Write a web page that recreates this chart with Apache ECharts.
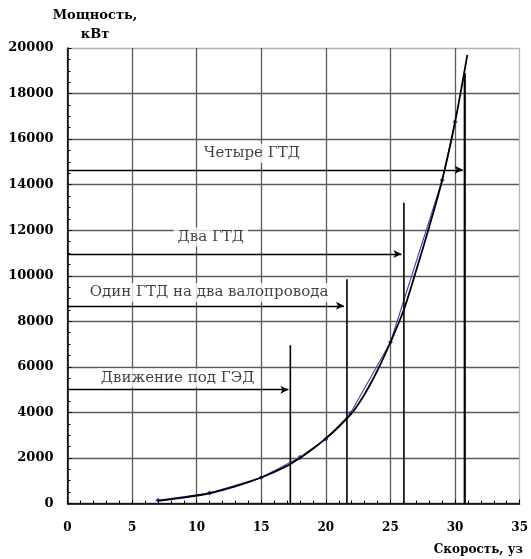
<!DOCTYPE html>
<html>
<head>
<meta charset="utf-8">
<script src="https://cdn.jsdelivr.net/npm/echarts@6/dist/echarts.min.js"></script>
<style>html,body{margin:0;padding:0;background:#fff;}#c{width:531px;height:559px;}</style>
</head>
<body>
<div id="c"></div>
<script>
// Measured points (blue series)
const measuredX = [7, 11, 15, 18, 20, 21.9, 25, 29, 30];
const measuredY = [140, 460, 1140, 2030, 2830, 3960, 7080, 14190, 16750];
// Trend curve (black)
const trendX = [7, 9, 11, 13, 15, 17, 18, 19, 20, 21, 22, 23, 24, 25, 26, 27, 28, 29, 30, 30.95];
const trendY = [120, 260, 450, 750, 1140, 1650, 2000, 2400, 2860, 3370, 3960, 4800, 5850, 7080, 8450, 10250, 12150, 14190, 16750, 19700];
// Mode boundary vertical lines
const boundX = [17.25, 21.63, 26.04, 30.75];
const boundTop = [6950, 9850, 13200, 18900];
// Mode arrows
const arrowEndX = [17.1, 21.4, 25.85, 30.6];
const arrowY = [5000, 8680, 10950, 14650];
// Mode labels
const modeNames = ['Движение под ГЭД', 'Один ГТД на два валопровода', 'Два ГТД', 'Четыре ГТД'];
const labelX = [8.52, 10.96, 11.09, 14.27];
const labelY = [5515, 9260, 11700, 15375];
// Axis texts
const yAxisTitle = 'Мощность,\nкВт';
const xAxisTitle = 'Скорость, уз';

const chart = echarts.init(document.getElementById('c'), null, {renderer: 'canvas'});

const gridCol = '#5a5a5a';
const borderCol = '#b5b5b5';
const yColors = [];
for (let i = 0; i <= 10; i++) yColors.push(i === 10 ? borderCol : gridCol);
const xColors = [];
for (let i = 0; i <= 7; i++) xColors.push(i === 7 ? borderCol : gridCol);

const series = [];
series.push({
  type: 'line', name: 'measured',
  data: measuredX.map((x, i) => [x, measuredY[i]]),
  symbol: 'diamond', symbolSize: 5,
  itemStyle: {color: '#3b3ba0'},
  lineStyle: {color: '#4a4ab0', width: 1.2},
  z: 3, silent: true, animation: false
});
series.push({
  type: 'line', name: 'trend',
  data: trendX.map((x, i) => [x, trendY[i]]),
  smooth: 0.3, symbol: 'none',
  lineStyle: {color: '#000', width: 1.8},
  z: 4, silent: true, animation: false
});
boundX.forEach((x, i) => {
  series.push({
    type: 'line', data: [[x, 0], [x, boundTop[i]]], symbol: 'none',
    lineStyle: {color: '#000', width: i === 3 ? 2.2 : 1.6},
    z: 5, silent: true, animation: false
  });
});
series.push({
  type: 'line', data: [], symbol: 'none', silent: true, animation: false,
  markLine: {
    silent: true, animation: false,
    symbol: ['none', 'arrow'], symbolSize: [6, 8],
    label: {show: false},
    lineStyle: {color: '#000', width: 1.4, type: 'solid'},
    data: arrowEndX.map((x, i) => [{coord: [0, arrowY[i]]}, {coord: [x, arrowY[i]]}])
  },
  z: 5
});
series.push({
  type: 'scatter', symbolSize: 0, silent: true, animation: false,
  data: modeNames.map((n, i) => ({name: n, value: [labelX[i], labelY[i]]})),
  label: {
    show: true, position: 'inside', formatter: p => p.name,
    fontFamily: 'DejaVu Serif', fontSize: 15, color: '#111',
    backgroundColor: '#fff', padding: [2, 4]
  },
  z: 6
});

chart.setOption({
  animation: false,
  backgroundColor: '#fff',
  grid: {left: 67.5, right: 8.5, top: 48, bottom: 55.5, containLabel: false},
  xAxis: {
    type: 'value', min: 0, max: 35, interval: 5,
    axisLine: {show: true, onZero: false, lineStyle: {color: '#000', width: 1.5}},
    axisTick: {show: true, inside: true, length: 4, lineStyle: {color: '#000'}},
    minorTick: {show: true, splitNumber: 5, length: 3, lineStyle: {color: '#000'}},
    splitLine: {show: true, lineStyle: {color: xColors, width: 1.3}},
    axisLabel: {fontFamily: 'DejaVu Serif', fontWeight: 'bold', fontSize: 12, color: '#000', margin: 18,
                formatter: v => String(v)}
  },
  yAxis: {
    type: 'value', min: 0, max: 20000, interval: 2000,
    axisLine: {show: true, onZero: false, lineStyle: {color: '#000', width: 1.5}},
    axisTick: {show: true, inside: true, length: 4, lineStyle: {color: '#000'}},
    minorTick: {show: true, splitNumber: 4, length: 3, lineStyle: {color: '#000'}},
    splitLine: {show: true, lineStyle: {color: yColors, width: 1.3}},
    axisLabel: {fontFamily: 'DejaVu Serif', fontWeight: 'bold', fontSize: 13, color: '#000', margin: 14,
                formatter: v => String(v)}
  },
  graphic: [
    {type: 'text', x: 95, y: 6, silent: true,
     style: {text: yAxisTitle, textAlign: 'center', textVerticalAlign: 'top', fill: '#000',
             font: 'bold 13px "DejaVu Serif"', lineHeight: 19}},
    {type: 'text', x: 523, y: 550, silent: true,
     style: {text: xAxisTitle, textAlign: 'right', textVerticalAlign: 'middle', fill: '#000',
             font: 'bold 12px "DejaVu Serif"'}}
  ],
  series: series
});
</script>
</body>
</html>
